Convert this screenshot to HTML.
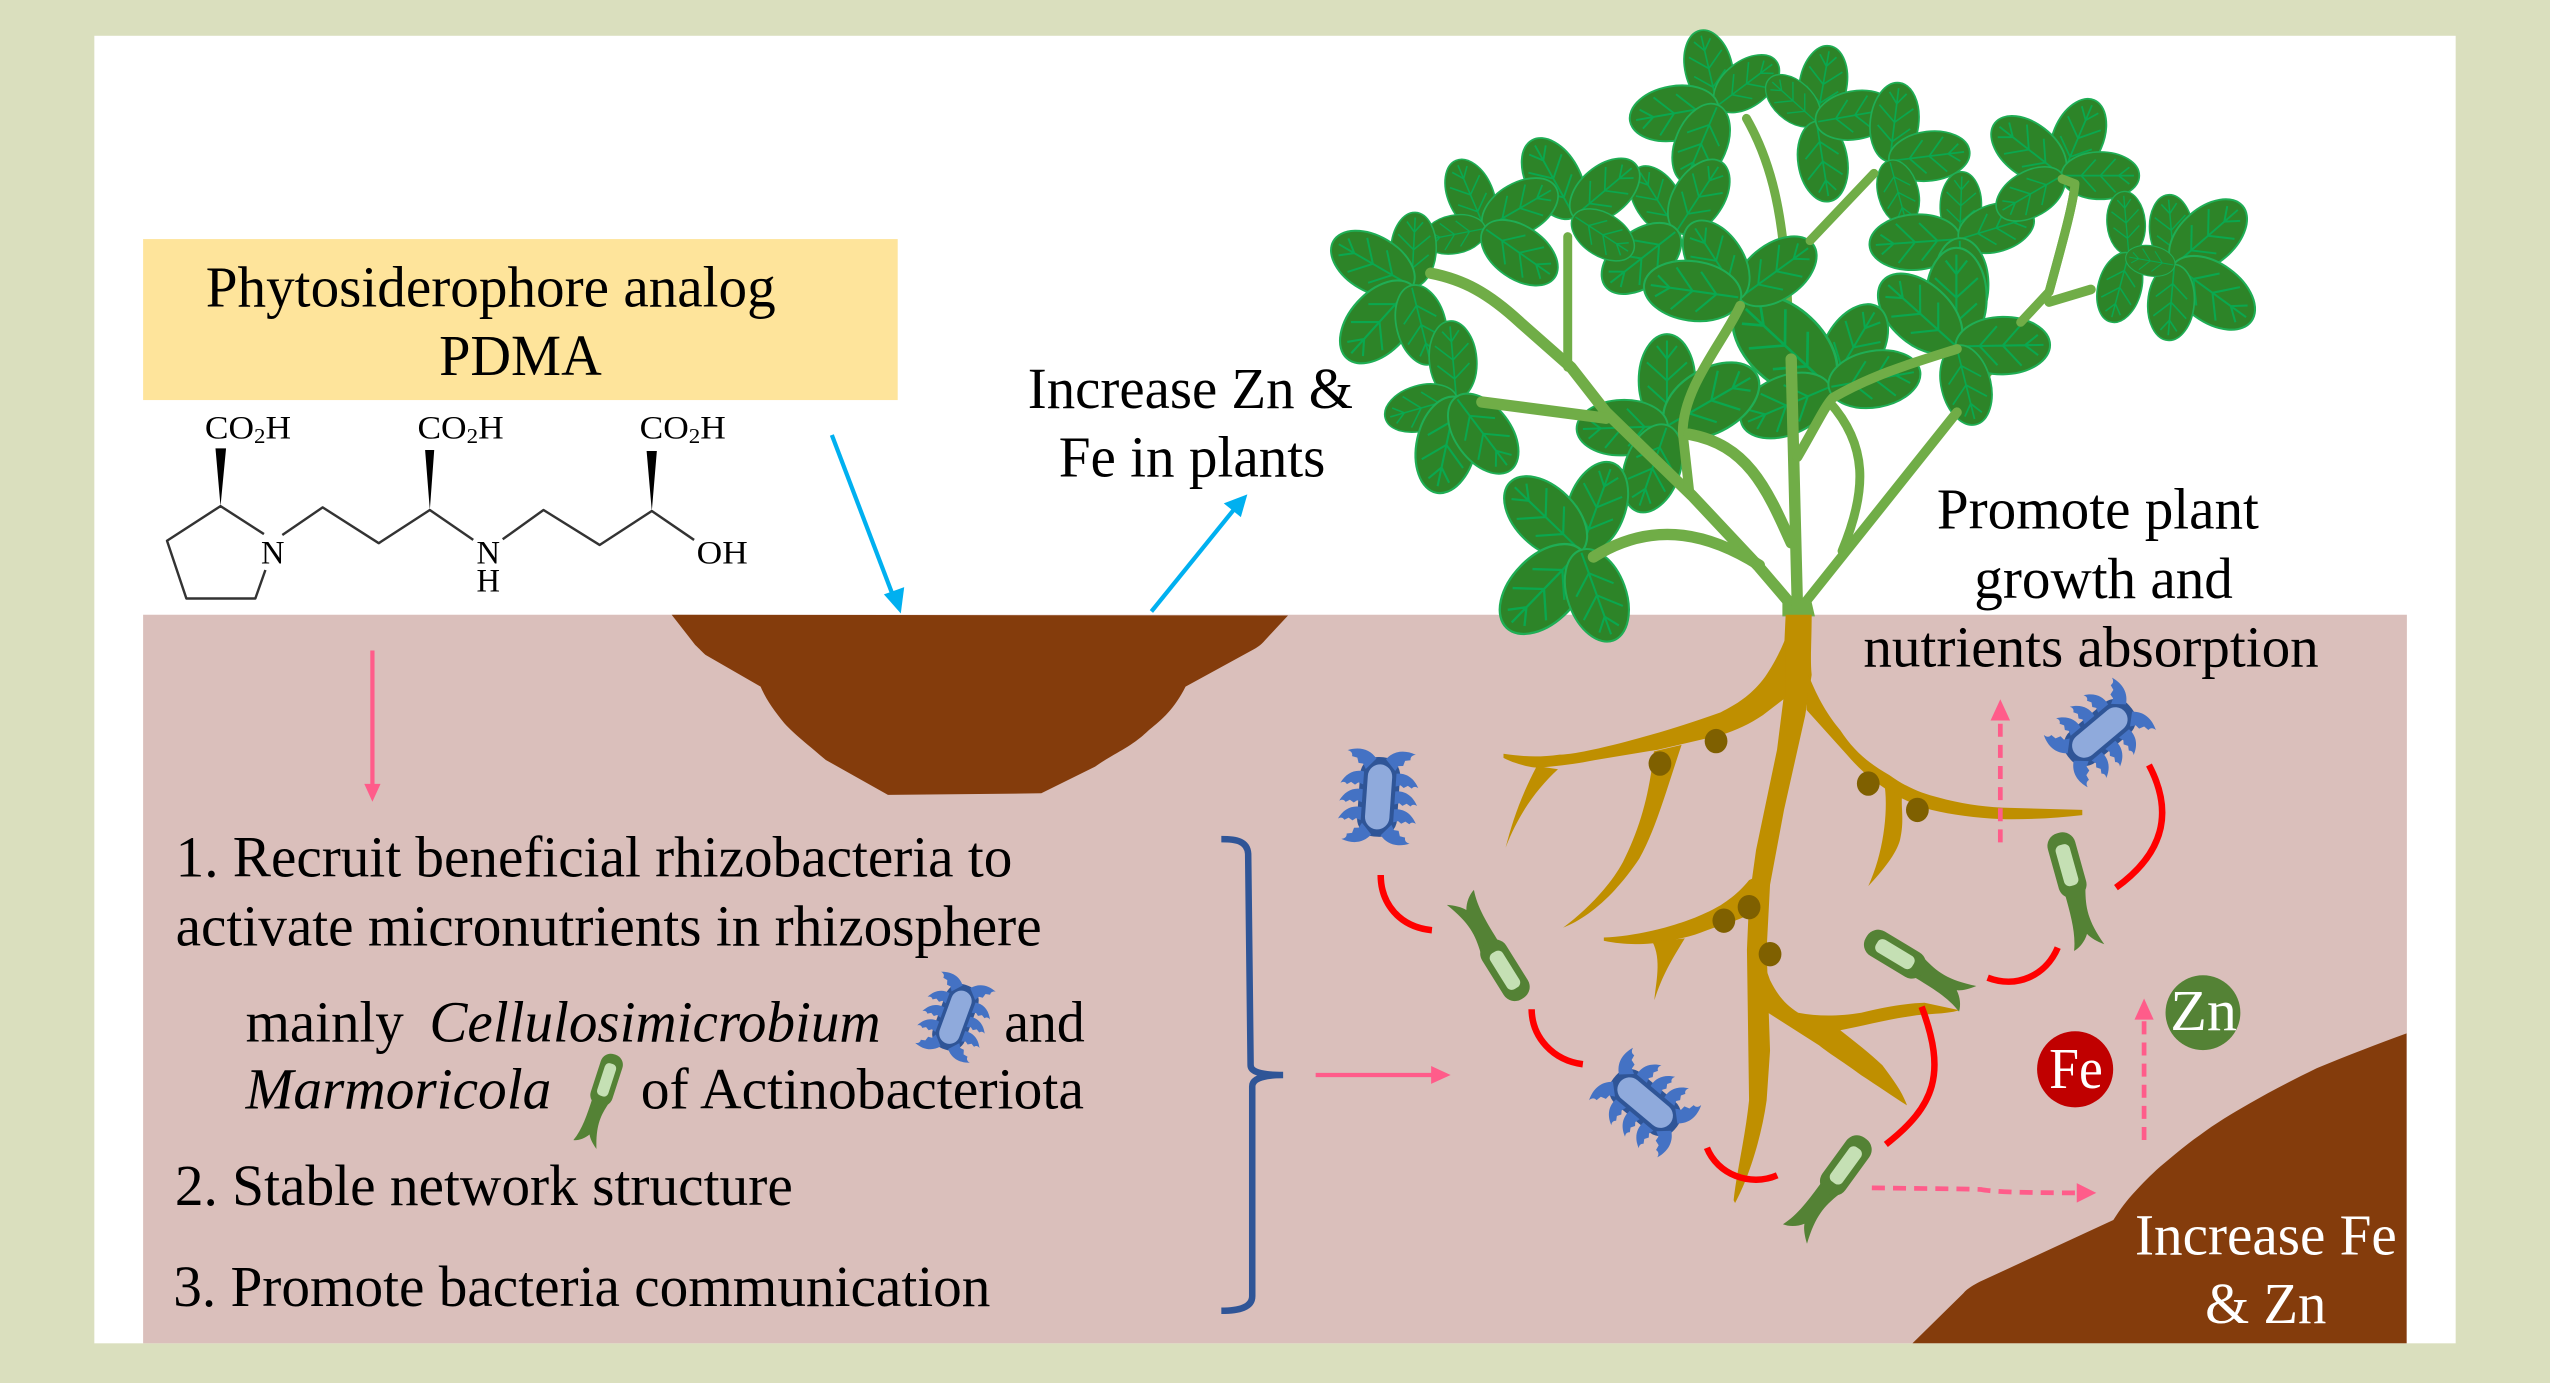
<!DOCTYPE html>
<html><head><meta charset="utf-8"><style>
html,body{margin:0;padding:0;background:#dadfbe}
svg{display:block}
text{font-family:"Liberation Serif",serif;fill:#000}
.t{font-size:36px}.c{font-size:20px}
.st{fill:none;stroke:#70ad47;stroke-linecap:round;stroke-linejoin:round}
.bd{fill:none;stroke:#333;stroke-width:1.5;stroke-linejoin:round}
.red{fill:none;stroke:#f00;stroke-width:4}
.pk{fill:none;stroke:#ff5c8a;stroke-width:2.6}
.pd{fill:none;stroke:#ff5c8a;stroke-width:2.9;stroke-dasharray:8 5}
.pf{fill:#ff5c8a}
.root{fill:#bf8f00}
.nod{fill:#7f6000}
</style></head><body>
<svg xmlns="http://www.w3.org/2000/svg" width="2550" height="1383" viewBox="0 0 1568 850.4">
<defs>
<g id="leaf">
<ellipse cx="0" cy="-50" rx="31" ry="51" fill="#2d8428" stroke="#1fae55" stroke-width="2.2"/>
<path d="M0,-2V-94M0,-25L-21,-44M0,-25L21,-44M0,-50L-22,-70M0,-50L22,-70M0,-74L-11,-88M0,-74L11,-88" fill="none" stroke="#0aa84f" stroke-width="2.2"/>
</g>
<path id="sp" d="M0,-4C6,-5 11,-2 14,4C12.500,3 11,3 10,4.500L7.500,3L5,4.500L3,3L0,4Z" fill="#4472c4"/>
<g id="blue">
<rect x="-12.300" y="-24.500" width="24.600" height="49" rx="11" fill="#2f5597"/>
<use href="#sp" transform="translate(10,-11)"/><use href="#sp" transform="translate(10,0)"/><use href="#sp" transform="translate(10,11)"/>
<use href="#sp" transform="translate(-10,-11) scale(-1,1)"/><use href="#sp" transform="translate(-10,0) scale(-1,1)"/><use href="#sp" transform="translate(-10,11) scale(-1,1)"/>
<use href="#sp" transform="translate(6,-20) rotate(-42) scale(1.15)"/>
<use href="#sp" transform="translate(-6,-20) scale(-1,1) rotate(-42) scale(1.15)"/>
<use href="#sp" transform="translate(6,20) rotate(42) scale(1.15,-1.15)"/>
<use href="#sp" transform="translate(-6,20) scale(-1,1) rotate(42) scale(1.15,-1.15)"/>
<rect x="-7.500" y="-20" width="15" height="40" rx="7.500" fill="#8faadc"/>
</g>
<g id="green">
<path d="M-6,17L7,17C4,28 3,36 9,53C5,50 2,47 0.500,44C-2,48 -6,51 -10,52C-6,42 -6,30 -6,17Z" fill="#548235"/>
<rect x="-8.700" y="-20.500" width="17.400" height="41" rx="8" fill="#548235"/>
<rect x="-4.500" y="-13" width="9" height="26" rx="3.500" fill="#c5e0b4"/>
</g>
</defs>

<rect width="1568" height="851" fill="#dadfbe"/>
<rect x="58" y="22" width="1452" height="804" fill="#fff"/>
<rect x="88" y="378" width="1392" height="448" fill="#dabfbb"/>
<rect x="88" y="147" width="464" height="99" fill="#fee49b"/>

<path d="M413,378L792,378.500L778,393.500C775,397 773,398 770.300,399.600L729,422.200C722,436 715,442 706.600,448.800C695,460 685,463 673.400,471.400L640.300,487.800L546,488.800L507.800,467.300C497,458 489,452 482.300,444.700C476,437 471,430 467.700,422.200L433.800,402.700C431,400 429,398 427.500,396.600Z" fill="#843c0c"/>
<path d="M1176,826L1207.200,795.300C1210,792 1214,790 1217.500,788.100L1299.500,750.200C1304,743 1308,738 1311.800,733.800C1318,727 1322,723 1328.200,717.400C1336,711 1344,704 1352.800,697.900C1362,691 1372,685 1383.500,678.400C1396,671 1410,664 1424.500,656.900C1443,649 1462,642 1479.800,635.400V826Z" fill="#843c0c"/>

<!-- text -->
<text class="t" x="126.500" y="188.600" textLength="350.500" lengthAdjust="spacingAndGlyphs">Phytosiderophore analog</text>
<text class="t" x="270" y="230.600" textLength="100" lengthAdjust="spacingAndGlyphs">PDMA</text>
<text class="t" x="632" y="251" textLength="200" lengthAdjust="spacingAndGlyphs">Increase Zn &amp;</text>
<text class="t" x="651" y="293" textLength="164" lengthAdjust="spacingAndGlyphs">Fe in plants</text>
<text class="t" x="1191" y="325" textLength="198" lengthAdjust="spacingAndGlyphs">Promote plant</text>
<text class="t" x="1214" y="367.600" textLength="159" lengthAdjust="spacingAndGlyphs">growth and</text>
<text class="t" x="1145.800" y="409.800" textLength="280" lengthAdjust="spacingAndGlyphs">nutrients absorption</text>
<text class="t" x="108" y="539" textLength="514.500" lengthAdjust="spacingAndGlyphs">1. Recruit beneficial rhizobacteria to</text>
<text class="t" x="108" y="581.400" textLength="532.500" lengthAdjust="spacingAndGlyphs">activate micronutrients in rhizosphere</text>
<text class="t" x="151" y="640.300" textLength="97.300" lengthAdjust="spacingAndGlyphs">mainly</text>
<text class="t" x="264" y="640.300" textLength="277.500" lengthAdjust="spacingAndGlyphs" font-style="italic">Cellulosimicrobium</text>
<text class="t" x="617.500" y="640.300" textLength="49.500" lengthAdjust="spacingAndGlyphs">and</text>
<text class="t" x="151" y="681.700" textLength="188" lengthAdjust="spacingAndGlyphs" font-style="italic">Marmoricola</text>
<text class="t" x="394" y="681.700" textLength="272.500" lengthAdjust="spacingAndGlyphs">of Actinobacteriota</text>
<text class="t" x="107.500" y="741" textLength="380" lengthAdjust="spacingAndGlyphs">2. Stable network structure</text>
<text class="t" x="106.500" y="803.200" textLength="502.500" lengthAdjust="spacingAndGlyphs">3. Promote bacteria communication</text>
<text class="t" style="fill:#fff" x="1312.800" y="771.400" textLength="161" lengthAdjust="spacingAndGlyphs">Increase Fe</text>
<text class="t" style="fill:#fff" x="1355.900" y="813.500" textLength="74.600" lengthAdjust="spacingAndGlyphs">&amp; Zn</text>

<!-- molecule -->
<path class="bd" d="M162.300,328.400L135.600,311.200L102.700,332.500L114.600,368L157,368L163.200,350.500"/>
<path class="bd" d="M173.600,329L198.400,312L232.900,334L264.300,313.600L291,332M309.100,331.600L334.200,313.600L368.700,335.100L400.800,314.200L426.800,332"/>
<path d="M135.600,311.200L132.500,275.700H139ZM264.300,313.600L261.400,276.700H267ZM400.800,314.200L397.600,277.300H403.900Z" fill="#000"/>
<text class="c" x="126" y="269.500" textLength="53" lengthAdjust="spacingAndGlyphs">CO<tspan font-size="13" dy="3">2</tspan><tspan dy="-3">H</tspan></text>
<text class="c" x="256.700" y="269.500" textLength="53" lengthAdjust="spacingAndGlyphs">CO<tspan font-size="13" dy="3">2</tspan><tspan dy="-3">H</tspan></text>
<text class="c" x="393.300" y="269.500" textLength="53" lengthAdjust="spacingAndGlyphs">CO<tspan font-size="13" dy="3">2</tspan><tspan dy="-3">H</tspan></text>
<text class="c" x="160.500" y="346.400">N</text>
<text class="c" x="293" y="346.400">N</text>
<text class="c" x="293" y="363.800">H</text>
<text class="c" x="428.400" y="346.400" textLength="31.400" lengthAdjust="spacingAndGlyphs">OH</text>

<!-- blue arrows -->
<path d="M511.500,267.500L549,366" fill="none" stroke="#00b0f0" stroke-width="2.600"/>
<path d="M553.900,377.200L543.500,365.500L556,361Z" fill="#00b0f0"/>
<path d="M708,376L759,313" fill="none" stroke="#00b0f0" stroke-width="2.600"/>
<path d="M767,304L763,318L752.500,309.500Z" fill="#00b0f0"/>

<!-- stems behind leaves -->
<path class="st" stroke-width="5.500" d="M1203.300,253.500L1224.900,225.800L1242.500,198.200L1260,179.400C1268,150 1275,125 1275.900,113"/>
<path class="st" stroke-width="5.500" d="M1073.900,72.800C1089.600,100.400 1097.400,133 1099.400,190.700"/>

<!-- leaves -->
<g>
<use href="#leaf" transform="translate(1056,65) rotate(-13) scale(.47)"/>
<use href="#leaf" transform="translate(1056,65) rotate(53) scale(.45)"/>
<use href="#leaf" transform="translate(1056,65) rotate(-100) scale(.54)"/>
<use href="#leaf" transform="translate(1056,65) rotate(-157) scale(.51)"/>
<use href="#leaf" transform="translate(1117,75) rotate(10) scale(.47)"/>
<use href="#leaf" transform="translate(1117,75) rotate(-48) scale(.39)"/>
<use href="#leaf" transform="translate(1117,75) rotate(171) scale(.49)"/>
<use href="#leaf" transform="translate(1117,75) rotate(80) scale(.48)"/>
<use href="#leaf" transform="translate(1162,99) rotate(7) scale(.48)"/>
<use href="#leaf" transform="translate(1162,99) rotate(83) scale(.49)"/>
<use href="#leaf" transform="translate(1162,99) rotate(165) scale(.4)"/>
<use href="#leaf" transform="translate(1205,147) rotate(2) scale(.41)"/>
<use href="#leaf" transform="translate(1205,147) rotate(-94) scale(.55)"/>
<use href="#leaf" transform="translate(1205,147) rotate(73) scale(.47)"/>
<use href="#leaf" transform="translate(1205,147) rotate(178) scale(.54)"/>
<use href="#leaf" transform="translate(1268,108) rotate(23) scale(.5)"/>
<use href="#leaf" transform="translate(1268,108) rotate(-52) scale(.52)"/>
<use href="#leaf" transform="translate(1268,108) rotate(90) scale(.47)"/>
<use href="#leaf" transform="translate(1268,108) rotate(-120) scale(.45)"/>
<use href="#leaf" transform="translate(1309,156) rotate(-5) scale(.38)"/>
<use href="#leaf" transform="translate(1309,156) rotate(195) scale(.43)"/>
<use href="#leaf" transform="translate(1337,163) rotate(-5) scale(.43)"/>
<use href="#leaf" transform="translate(1337,163) rotate(49) scale(.55)"/>
<use href="#leaf" transform="translate(1337,163) rotate(126) scale(.58)"/>
<use href="#leaf" transform="translate(1337,163) rotate(185) scale(.46)"/>
<use href="#leaf" transform="translate(1337,163) rotate(-80) scale(.3)"/>
<use href="#leaf" transform="translate(1203,213) rotate(0) scale(.6)"/>
<use href="#leaf" transform="translate(1203,213) rotate(-48) scale(.6)"/>
<use href="#leaf" transform="translate(1203,213) rotate(89) scale(.57)"/>
<use href="#leaf" transform="translate(1203,213) rotate(166) scale(.49)"/>
<use href="#leaf" transform="translate(1125,238) rotate(31) scale(.57)"/>
<use href="#leaf" transform="translate(1125,238) rotate(-47) scale(.75)"/>
<use href="#leaf" transform="translate(1125,238) rotate(-113) scale(.58)"/>
<use href="#leaf" transform="translate(1125,238) rotate(80) scale(.56)"/>
<use href="#leaf" transform="translate(1031,142) rotate(-32) scale(.45)"/>
<use href="#leaf" transform="translate(1031,142) rotate(33) scale(.5)"/>
<use href="#leaf" transform="translate(1031,142) rotate(-128) scale(.55)"/>
<use href="#leaf" transform="translate(1070,183) rotate(54) scale(.55)"/>
<use href="#leaf" transform="translate(1070,183) rotate(-33) scale(.54)"/>
<use href="#leaf" transform="translate(1070,183) rotate(-82) scale(.59)"/>
<use href="#leaf" transform="translate(1025,262) rotate(0) scale(.56)"/>
<use href="#leaf" transform="translate(1025,262) rotate(60) scale(.63)"/>
<use href="#leaf" transform="translate(1025,262) rotate(-92) scale(.55)"/>
<use href="#leaf" transform="translate(1025,262) rotate(-161) scale(.55)"/>
<use href="#leaf" transform="translate(968,133) rotate(-29) scale(.53)"/>
<use href="#leaf" transform="translate(968,133) rotate(50) scale(.49)"/>
<use href="#leaf" transform="translate(968,133) rotate(123) scale(.42)"/>
<use href="#leaf" transform="translate(913,140.500) rotate(-23) scale(.45)"/>
<use href="#leaf" transform="translate(913,140.500) rotate(60) scale(.5)"/>
<use href="#leaf" transform="translate(913,140.500) rotate(-101) scale(.38)"/>
<use href="#leaf" transform="translate(913,140.500) rotate(125) scale(.52)"/>
<use href="#leaf" transform="translate(868,176) rotate(3) scale(.45)"/>
<use href="#leaf" transform="translate(868,176) rotate(-60) scale(.55)"/>
<use href="#leaf" transform="translate(868,176) rotate(-138) scale(.59)"/>
<use href="#leaf" transform="translate(868,176) rotate(166) scale(.49)"/>
<use href="#leaf" transform="translate(895.500,244.700) rotate(-5) scale(.47)"/>
<use href="#leaf" transform="translate(895.500,244.700) rotate(-106) scale(.45)"/>
<use href="#leaf" transform="translate(895.500,244.700) rotate(192) scale(.59)"/>
<use href="#leaf" transform="translate(895.500,244.700) rotate(143) scale(.55)"/>
<use href="#leaf" transform="translate(972,338.800) rotate(20) scale(.57)"/>
<use href="#leaf" transform="translate(972,338.800) rotate(-46) scale(.6)"/>
<use href="#leaf" transform="translate(972,338.800) rotate(-136) scale(.65)"/>
<use href="#leaf" transform="translate(972,338.800) rotate(160) scale(.58)"/>
</g>

<!-- stems on top -->
<g>
<path class="st" stroke-width="7" d="M1105.300,376.400L1081.800,348.800L1040.600,304.900L987.600,253.500L966,225.800L934.700,198.200C915,180 900,172 879.800,168"/>
<path class="st" stroke-width="5.500" d="M964,145.500V225.800"/>
<path class="st" stroke-width="7" d="M911.200,247.200L987.600,257.200"/>
<path class="st" stroke-width="7" d="M1105.300,376.400L1101.400,220.800"/>
<path class="st" stroke-width="7" d="M979.800,342.500C1019,318 1054,330 1081.800,347.500"/>
<path class="st" stroke-width="6" d="M1038.600,301L1034.700,266C1034.700,238 1060,210 1070,188"/>
<path class="st" stroke-width="7" d="M1038.600,267C1073.900,273.500 1085.700,298.600 1101.400,333.800"/>
<path class="st" stroke-width="6" d="M1105.300,281C1117,261 1122,250 1126.900,244.700C1152,230 1180,222 1203.300,214.600"/>
<path class="st" stroke-width="5.500" d="M1124.900,247.200C1148.400,273.500 1148.400,301 1132.700,338.800"/>
<path class="st" stroke-width="6" d="M1105.300,376.400L1203.300,253.500"/>
<path class="st" stroke-width="6" d="M1260,185.700L1285.700,178"/>
<path class="st" stroke-width="5.500" d="M1242.500,198.200L1260,179.400C1268,150 1275,125 1275.900,113L1268,110"/>
<path class="st" stroke-width="5.500" d="M1152.300,106.600L1113,148"/>
<path d="M1096,366L1105,376L1113,366L1116,379H1096Z" fill="#70ad47"/>
</g>

<!-- roots -->
<g class="root">
<path d="M1098,378L1114,378C1114,395 1113,405 1114,415L1110,440L1097,498L1088.400,544L1086.300,584L1088.400,646L1086.300,676.600C1083,700 1075,725 1066.900,739.700L1066,738C1068,720 1073,700 1075.500,676.600L1074.200,584L1075.500,553.500L1079.800,522.700L1092.700,461L1097,427L1097,399.700Z"/>
<path d="M1098,392C1096,398 1090,410 1084,418C1076,428 1068,433 1058,438C1030,448 1005,455 985,459.700C975,462 965,464 959,464C945,466 935,465 924.500,463.500V466C930,469 940,472 946,472C958,471 968,470 980.600,467.400L1019.400,461L1058,452C1068,449 1076,445 1084,439.700L1098,429Z"/>
<path d="M945,471C935,490 930,505 925.800,521.200C934,500 945,485 958,473Z"/>
<path d="M1017,462C1014,490 1008,510 998,530C990,545 975,560 961.200,570.400C975,565 992,552 1008,528C1018,510 1024,488 1034,458Z"/>
<path d="M1112,415C1118,430 1124,440 1131.600,449C1140,462 1150,470 1161.800,476.600C1172,484 1182,488 1192,490.400C1205,494 1218,496 1230.800,496.600L1280.400,498V501.200C1265,503 1248,504 1230.800,503.700C1215,503 1200,501 1187.700,498C1180,496 1174,493 1168.300,490.400C1155,483 1145,475 1135.900,464.300L1110.900,436.600Z"/>
<path d="M1159,484C1161,500 1158,525 1148.800,544.900C1158,535 1166,525 1168.300,516.600C1171,505 1169,498 1169.500,490Z"/>
<path d="M1080,539L1075.500,541.200C1070,548 1065,552 1058,556.600C1045,564 1035,567 1023.700,570.400C1010,574 998,576 986.200,576.500V578.500C998,581 1008,581 1019.400,579.700C1030,578 1040,576 1049.600,572C1060,568 1070,566 1080,560Z"/>
<path d="M1016,579C1022,590 1018,605 1017.300,615C1022,600 1028,590 1036,577Z"/>
<path d="M1086,596L1088.400,602.700C1093,612 1098,618 1105.700,622.700C1118,625 1130,625 1144.500,622.700C1160,619 1172,617 1183.400,616.600L1204.900,621.200C1195,624 1185,623 1174.700,624.900C1160,627 1145,631 1131.600,633.500C1140,640 1150,648 1157.500,655C1165,665 1170,672 1172.600,679.700C1165,675 1155,668 1144.500,661.200C1135,654 1125,648 1118.600,642.800L1086,622Z"/>
</g>
<g class="nod">
<ellipse cx="1020.700" cy="469.500" rx="7" ry="7.500"/><ellipse cx="1055.200" cy="455.700" rx="7" ry="7.500"/><ellipse cx="1148.800" cy="481.800" rx="7" ry="7.500"/><ellipse cx="1179" cy="498" rx="7" ry="7.500"/><ellipse cx="1060" cy="566.100" rx="7" ry="7.500"/><ellipse cx="1075.500" cy="557.800" rx="7" ry="7.500"/><ellipse cx="1088.400" cy="586.700" rx="7" ry="7.500"/>
</g>

<!-- bracket -->
<path d="M751,516C760,516 767,517 767.500,525L769,655C769,659 775,661 789,661C775,661 770,664 770,668L770,797C770,804 762,806 751,806" fill="none" stroke="#2f5597" stroke-width="4"/>

<!-- pink arrows -->
<path class="pk" d="M229,400V483"/><path class="pf" d="M229,493L224,482H234Z"/>
<path class="pk" d="M809,661H881"/><path class="pf" d="M892,661L880,655.500V666.500Z"/>
<path class="pd" d="M1230,518V441"/><path class="pf" d="M1230,430L1224,443H1236Z"/>
<path class="pd" d="M1318.400,701V625"/><path class="pf" d="M1318.400,614L1312.500,627H1324.300Z"/>
<path class="pd" d="M1151,730.400C1190,731 1210,731 1218,731.400C1225,733 1250,733.500 1278,733.500"/><path class="pf" d="M1289,733.500L1277,727.500V739.500Z"/>

<!-- red arcs -->
<path class="red" d="M849,538C849,555 860,570 880.500,572"/>
<path class="red" d="M941.800,620.600C942,638 955,652 973.300,654.400"/>
<path class="red" d="M1049.600,705.800C1056,722 1076,730 1092.800,722.700"/>
<path class="red" d="M1181.600,619C1197,660 1190,680 1159.600,703.700"/>
<path class="red" d="M1222.200,601.200C1240,608 1258,600 1265.300,582.700"/>
<path class="red" d="M1301.100,545.800C1330,525 1337,500 1321.400,470.400"/>

<!-- bacteria -->
<use href="#blue" transform="translate(847.700,490) rotate(4)"/>
<use href="#blue" transform="translate(1011.600,678) rotate(-50)"/>
<use href="#blue" transform="translate(1291.200,450.400) rotate(50)"/>
<use href="#blue" transform="translate(587.500,625.500) rotate(20) scale(.85)"/>
<use href="#green" transform="translate(925.400,596.600) rotate(148)"/>
<use href="#green" transform="translate(1135,716.600) rotate(36)"/>
<use href="#green" transform="translate(1165.200,586.700) rotate(-59)"/>
<use href="#green" transform="translate(1271,532) rotate(-15.600)"/>
<use href="#green" transform="translate(373,664) rotate(18) scale(.8)"/>

<!-- Fe / Zn -->
<circle cx="1276" cy="657.500" r="23.400" fill="#c00000"/>
<text class="t" style="fill:#fff" x="1260" y="669" textLength="33" lengthAdjust="spacingAndGlyphs">Fe</text>
<circle cx="1354.600" cy="622.700" r="23" fill="#548235"/>
<text class="t" style="fill:#fff" x="1334.500" y="633.500" textLength="41" lengthAdjust="spacingAndGlyphs">Zn</text>
</svg>
</body></html>
